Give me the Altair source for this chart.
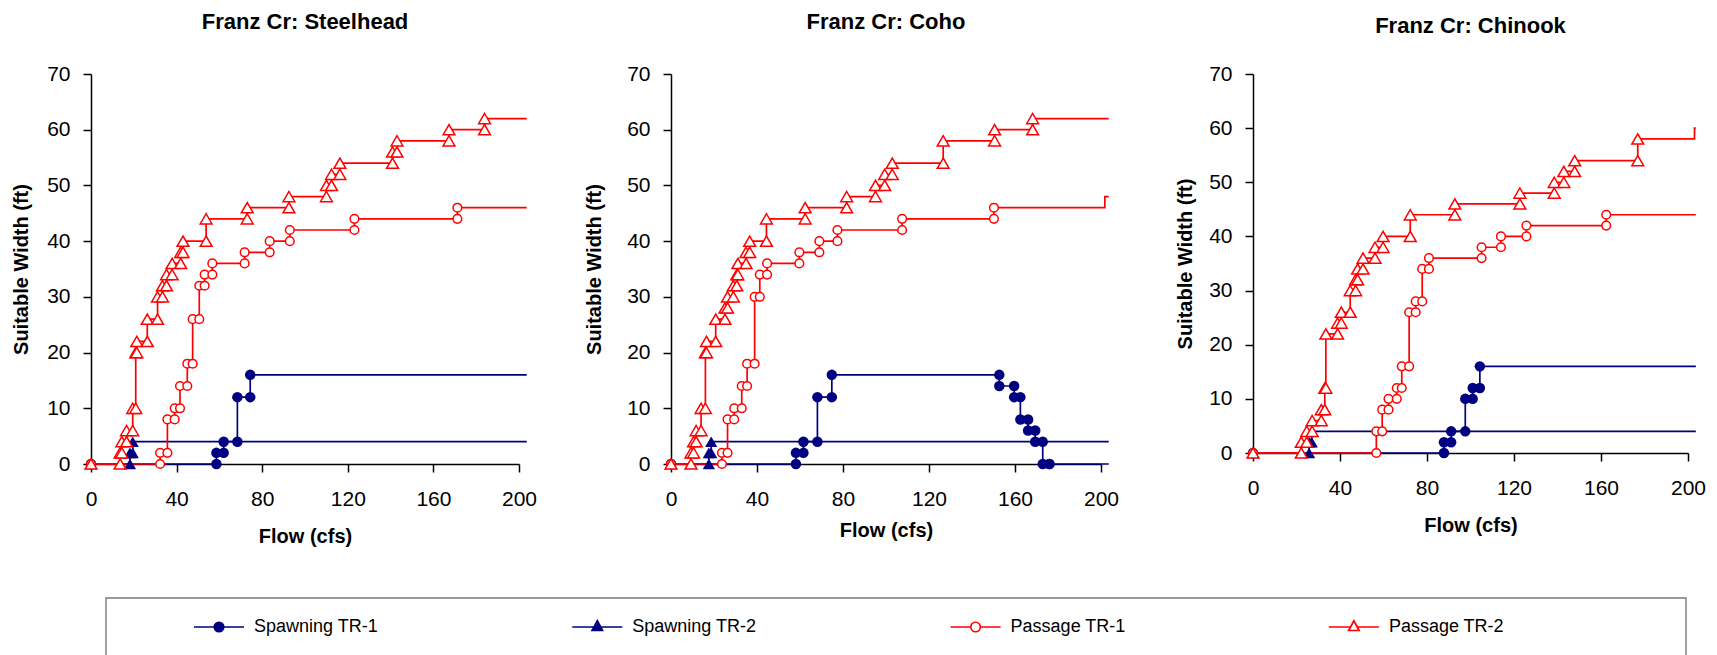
import altair as alt
import pandas as pd

FONT = "Liberation Sans"
NAVY = "#000080"
RED = "#FF0000"

SERIES = ["Spawning TR-1", "Spawning TR-2", "Passage TR-1", "Passage TR-2"]
TITLES = ["Franz Cr: Steelhead", "Franz Cr: Coho", "Franz Cr: Chinook"]
X_TICKS = [0, 40, 80, 120, 160, 200]
Y_TICKS = [0, 10, 20, 30, 40, 50, 60, 70]
END_FLOW = 203.6  # flow where the step lines leave the plot frame

# ---- Steelhead: flow (cfs) at which each step occurs, and width (ft) after it
SH_SP1_FLOW = [0, 58.6, 62.0, 68.4, 74.4]
SH_SP1_WIDTH = [0, 2, 4, 12, 16]
SH_SP2_FLOW = [0, 18.2, 19.5]
SH_SP2_WIDTH = [0, 2, 4]
SH_PA1_FLOW = [0, 32.3, 35.7, 39.1, 41.6, 45.0, 47.5, 50.6, 53.1, 56.7, 71.8, 83.5, 92.9, 123.1, 171.2]
SH_PA1_WIDTH = [0, 2, 8, 10, 14, 18, 26, 32, 34, 36, 38, 40, 42, 44, 46]
SH_PA2_FLOW = [0, 13.6, 14.4, 16.6, 19.5, 20.9, 21.4, 26.3, 31.1, 33.4, 35.3, 37.9, 41.9, 43.0,
               53.8, 73.0, 92.5, 110.0, 112.4, 116.3, 140.9, 143.0, 167.3, 183.9]
SH_PA2_WIDTH = [0, 2, 4, 6, 10, 20, 22, 26, 30, 32, 34, 36, 38, 40,
                44, 46, 48, 50, 52, 54, 56, 58, 60, 62]

# ---- Coho
CO_SP1_FLOW = [0, 58.1, 61.6, 68.1, 74.8, 152.7, 159.6, 162.5, 166.1, 169.4, 172.9, 176.0]
CO_SP1_WIDTH = [0, 2, 4, 12, 16, 14, 12, 8, 6, 4, 0, 0]
CO_SP2_FLOW = [0, 17.6, 18.7]
CO_SP2_WIDTH = [0, 2, 4]
CO_PA1_FLOW = [0, 23.7, 26.3, 29.4, 32.9, 35.4, 38.9, 41.3, 44.7, 59.7, 69.0, 77.4, 107.5, 150.2, 201.8]
CO_PA1_WIDTH = [0, 2, 8, 10, 14, 18, 30, 34, 36, 38, 40, 42, 44, 46, 48]
CO_PA2_FLOW = [0, 9.3, 10.5, 11.7, 14.0, 16.0, 16.5, 20.8, 25.1, 26.3, 29.0, 30.6, 31.1, 34.9,
               36.6, 44.4, 62.4, 81.7, 95.1, 99.4, 102.9, 126.6, 150.5, 168.2]
CO_PA2_WIDTH = [0, 2, 4, 6, 10, 20, 22, 26, 28, 30, 32, 34, 36, 38,
                40, 44, 46, 48, 50, 52, 54, 58, 60, 62]

# ---- Chinook
CH_SP1_FLOW = [0, 87.8, 91.1, 97.6, 101.0, 104.3]
CH_SP1_WIDTH = [0, 2, 4, 10, 12, 16]
CH_SP2_FLOW = [0, 25.8, 27.0]
CH_SP2_WIDTH = [0, 2, 4]
CH_PA1_FLOW = [0, 56.7, 59.4, 62.3, 66.1, 68.4, 71.8, 74.8, 77.8, 80.9, 105.1, 114.0, 125.7, 162.4]
CH_PA1_WIDTH = [0, 4, 8, 10, 12, 16, 26, 28, 34, 36, 38, 40, 42, 44]
CH_PA2_FLOW = [0, 22.2, 24.7, 27.2, 31.4, 33.0, 33.5, 38.9, 40.6, 44.7, 47.2, 48.1, 50.6, 56.1,
               59.8, 72.3, 92.8, 122.7, 138.5, 142.9, 147.9, 176.9, 203.0]
CH_PA2_WIDTH = [0, 2, 4, 6, 8, 12, 22, 24, 26, 30, 32, 34, 36, 38,
                40, 44, 46, 48, 50, 52, 54, 58, 60]

DATA = [
    [(SH_SP1_FLOW, SH_SP1_WIDTH), (SH_SP2_FLOW, SH_SP2_WIDTH), (SH_PA1_FLOW, SH_PA1_WIDTH), (SH_PA2_FLOW, SH_PA2_WIDTH)],
    [(CO_SP1_FLOW, CO_SP1_WIDTH), (CO_SP2_FLOW, CO_SP2_WIDTH), (CO_PA1_FLOW, CO_PA1_WIDTH), (CO_PA2_FLOW, CO_PA2_WIDTH)],
    [(CH_SP1_FLOW, CH_SP1_WIDTH), (CH_SP2_FLOW, CH_SP2_WIDTH), (CH_PA1_FLOW, CH_PA1_WIDTH), (CH_PA2_FLOW, CH_PA2_WIDTH)],
]


def step_points(flows, widths):
    pts = []
    for i, (f, w) in enumerate(zip(flows, widths)):
        if i > 0:
            pts.append((f, widths[i - 1]))
        pts.append((f, w))
    return pts


rows = []
for title, panel_data in zip(TITLES, DATA):
    for s, (fl, wd) in zip(SERIES, panel_data):
        pts = step_points(fl, wd)
        for k, (f, w) in enumerate(pts):
            rows.append(dict(panel=title, series=s, order=k, flow=f, width=w, marker=f <= 200))
        rows.append(dict(panel=title, series=s, order=len(pts), flow=END_FLOW, width=wd[-1], marker=False))
df = pd.DataFrame(rows)

STYLE = {
    "Spawning TR-1": dict(color=NAVY, shape="circle", fill=NAVY, size=110, sw=0),
    "Spawning TR-2": dict(color=NAVY, shape="triangle-up", fill=NAVY, size=150, sw=0),
    "Passage TR-1": dict(color=RED, shape="circle", fill="white", size=75, sw=1.5),
    "Passage TR-2": dict(color=RED, shape="triangle-up", fill="white", size=140, sw=1.5),
}

LEGEND_PATHS = [
    "M-1,0H1M0.19,0A0.19,0.19,0,1,1,-0.19,0A0.19,0.19,0,1,1,0.19,0Z",
    "M-1,0H1M0,-0.25L0.21,0.14L-0.21,0.14Z",
    "M-1,0H-0.19M0.19,0H1M0.19,0A0.19,0.19,0,1,1,-0.19,0A0.19,0.19,0,1,1,0.19,0Z",
    "M-1,0H-0.14M0.14,0H1M0,-0.25L0.21,0.14L-0.21,0.14Z",
]
LEGEND_STROKE = [NAVY, NAVY, RED, RED]
LEGEND_FILL = [NAVY, NAVY, "white", "white"]


def panel(i, w, h, ytitle_x, xtitle_y, title_offset):
    title = TITLES[i]
    base = alt.Chart(df[df.panel == title])
    x = alt.X("flow:Q", scale=alt.Scale(domain=[0, 200], nice=False, zero=False),
              axis=alt.Axis(values=X_TICKS, title="Flow (cfs)", format="d", grid=False,
                            labelFont=FONT, labelFontSize=21, labelColor="black", labelPadding=16,
                            labelFlush=False, labelOverlap=False,
                            tickSize=8, tickColor="black", tickWidth=1.5,
                            domainColor="black", domainWidth=1.5,
                            titleFont=FONT, titleFontSize=20, titleFontWeight="bold", titleColor="black",
                            titleY=xtitle_y, titleBaseline="middle"))
    y = alt.Y("width:Q", scale=alt.Scale(domain=[0, 70], nice=False),
              axis=alt.Axis(values=Y_TICKS, title="Suitable Width (ft)", format="d", grid=False,
                            labelFont=FONT, labelFontSize=21, labelColor="black", labelPadding=13,
                            labelFlush=False, labelOverlap=False,
                            tickSize=8, tickColor="black", tickWidth=1.5,
                            domainColor="black", domainWidth=1.5,
                            titleFont=FONT, titleFontSize=20, titleFontWeight="bold", titleColor="black",
                            titleX=ytitle_x, titleBaseline="middle"))
    layers = []
    for s in SERIES:
        layers.append(
            base.transform_filter(alt.datum.series == s)
            .mark_line(color=STYLE[s]["color"], strokeWidth=1.7)
            .encode(x=x, y=y, order="order:Q")
        )
    for s in SERIES:
        st = STYLE[s]
        layers.append(
            base.transform_filter((alt.datum.series == s) & alt.datum.marker)
            .mark_point(shape=st["shape"], filled=True, fill=st["fill"], stroke=st["color"],
                        strokeWidth=st["sw"], size=st["size"], opacity=1)
            .encode(x=x, y=y)
        )
    return alt.layer(*layers).properties(
        width=w, height=h,
        title=alt.TitleParams(text=title, font=FONT, fontSize=22, fontWeight="bold", color="black",
                              anchor="middle", frame="group", offset=title_offset, baseline="alphabetic"),
    )


p1 = panel(0, 428, 390, -70, 72, 12)
p2 = panel(1, 430, 390, -77, 66, 12)
p3 = panel(2, 435, 379, -68, 72, 8)
row = alt.hconcat(p1, p2, p3, spacing=152, bounds="flush")

# ---- legend strip (entries placed by a point scale over the series names)
leg_df = pd.DataFrame({"series": SERIES})
lx = alt.X("series:N", scale=alt.Scale(type="point", domain=SERIES, padding=0.6108, align=0.277), axis=None)
box = alt.Chart(pd.DataFrame({"series": SERIES[:1]})).mark_rect(
    fill="white", stroke="#7a7a7a", strokeWidth=1.4
).encode(x=alt.value(15), x2=alt.value(1595), y=alt.value(0), y2=alt.value(80))
symbols = alt.Chart(leg_df).mark_point(size=2500, strokeWidth=1.7, opacity=1, filled=True).encode(
    x=lx,
    shape=alt.Shape("series:N", scale=alt.Scale(domain=SERIES, range=LEGEND_PATHS), legend=None),
    stroke=alt.Stroke("series:N", scale=alt.Scale(domain=SERIES, range=LEGEND_STROKE), legend=None),
    fill=alt.Fill("series:N", scale=alt.Scale(domain=SERIES, range=LEGEND_FILL), legend=None),
)
labels = alt.Chart(leg_df).mark_text(
    align="left", baseline="middle", dx=35, font=FONT, fontSize=18, color="black"
).encode(x=lx, text="series:N")
legend_strip = alt.layer(box, symbols, labels).properties(width=1597, height=58)

chart = (
    alt.vconcat(row, legend_strip, spacing=524, bounds="flush")
    .properties(padding={"left": 3, "top": 3, "right": 0, "bottom": 0}, background="white")
    .configure_view(stroke=None)
)

chart.save("out.html", embed_options={"renderer": "svg", "actions": False})
